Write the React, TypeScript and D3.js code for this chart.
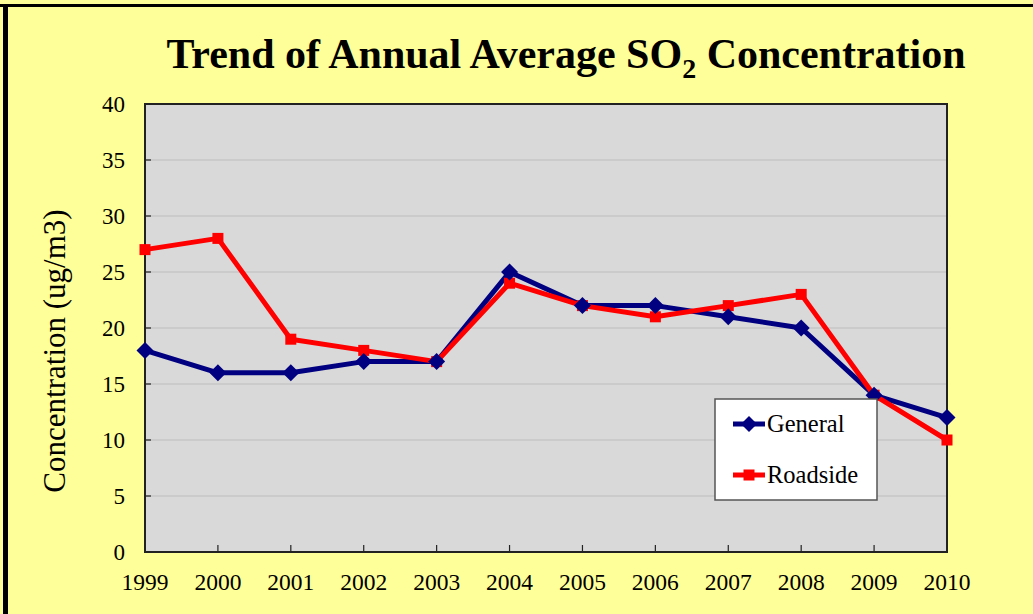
import React from "react";
import * as d3 from "d3";

const years = ["1999","2000","2001","2002","2003","2004","2005","2006","2007","2008","2009","2010"];
const general = [18,16,16,17,17,25,22,22,21,20,14,12];
const roadside = [27,28,19,18,17,24,22,21,22,23,14,10];
const yTicks = [0,5,10,15,20,25,30,35,40];

const W = 1033, H = 614;
const left = 145, right = 947, top = 104, bottom = 552;

export default function App() {
  const x = d3.scalePoint<string>().domain(years).range([left, right]);
  const y = d3.scaleLinear().domain([0, 40]).range([bottom, top]);
  const line = d3.line<number>().x((_, i) => x(years[i])!).y(d => y(d));
  const serif = "'Liberation Serif', 'Times New Roman', Times, 'DejaVu Serif', serif";
  const diamond = (cx: number, cy: number, r: number) =>
    `M${cx},${cy - r}L${cx + r},${cy}L${cx},${cy + r}L${cx - r},${cy}Z`;
  return (
    <svg width={W} height={H} style={{ position: "absolute", left: 0, top: 0 }}>
      <rect x={0} y={0} width={W} height={H} fill="#FFFF99" />
      <line x1={0} y1={5.5} x2={W} y2={5.5} stroke="#000" strokeWidth={3} />
      <line x1={5.5} y1={4} x2={5.5} y2={H} stroke="#000" strokeWidth={5} />
      <text x={566} y={68} textAnchor="middle" fontFamily={serif} fontWeight="bold" fontSize={42} fill="#000">
        Trend of Annual Average SO<tspan fontSize={28} dy={10}>2</tspan><tspan dy={-10}> Concentration</tspan>
      </text>
      <rect x={left} y={top} width={right - left} height={bottom - top} fill="#D9D9D9" />
      {yTicks.slice(1).map(t => (
        <line key={"g" + t} x1={left} x2={right} y1={y(t)} y2={y(t)} stroke="#C6C6C6" strokeWidth={1.5} />
      ))}
      <rect x={left} y={top} width={right - left} height={bottom - top} fill="none" stroke="#222" strokeWidth={2} />
      {yTicks.map(t => (
        <g key={"y" + t}>
          <line x1={left} x2={left + 6} y1={y(t)} y2={y(t)} stroke="#222" strokeWidth={1.2} />
          <text x={125} y={y(t) + 8} textAnchor="end" fontFamily={serif} fontSize={23} fill="#000">{t}</text>
        </g>
      ))}
      {years.map((yr, i) => (
        <g key={yr}>
          {i > 0 && i < years.length - 1 && (
            <line x1={x(yr)!} x2={x(yr)!} y1={bottom} y2={bottom - 7} stroke="#222" strokeWidth={1.2} />
          )}
          <text x={x(yr)!} y={590} textAnchor="middle" fontFamily={serif} fontSize={23.5} fill="#000">{yr}</text>
        </g>
      ))}
      <text transform={`translate(65,${351}) rotate(-90)`} textAnchor="middle" fontFamily={serif} fontSize={31} fill="#000">
        Concentration (ug/m3)
      </text>
      <path d={line(general)!} fill="none" stroke="#000080" strokeWidth={5} strokeLinejoin="round" />
      <path d={line(roadside)!} fill="none" stroke="#FF0000" strokeWidth={5} strokeLinejoin="round" />
      {roadside.map((v, i) => (
        <rect key={"r" + i} x={x(years[i])! - 5.5} y={y(v) - 5.5} width={11} height={11} fill="#FF0000" />
      ))}
      {general.map((v, i) => (
        <path key={"d" + i} d={diamond(x(years[i])!, y(v), 8.5)} fill="#000080" />
      ))}
      <rect x={715} y={399} width={162} height={101} fill="#FFFFFF" stroke="#555" strokeWidth={1.5} />
      <line x1={733} x2={765} y1={424} y2={424} stroke="#000080" strokeWidth={5} />
      <path d={diamond(749, 424, 8)} fill="#000080" />
      <text x={767} y={432} fontFamily={serif} fontSize={24.5} fill="#000">General</text>
      <line x1={733} x2={765} y1={475} y2={475} stroke="#FF0000" strokeWidth={5} />
      <rect x={743.5} y={469.5} width={11} height={11} fill="#FF0000" />
      <text x={767} y={483} fontFamily={serif} fontSize={24.5} fill="#000">Roadside</text>
    </svg>
  );
}
